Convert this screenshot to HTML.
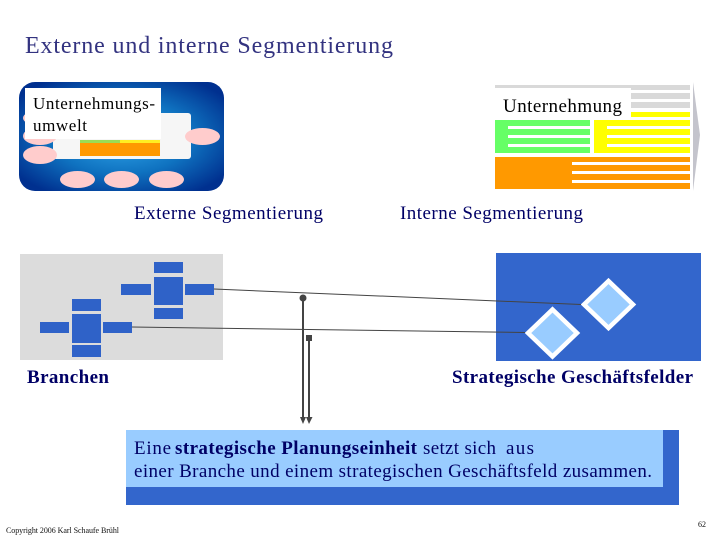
<!DOCTYPE html>
<html><head><meta charset="utf-8"><style>
html,body{margin:0;padding:0;background:#fff;width:720px;height:540px;overflow:hidden}
svg{display:block}
text{font-family:"Liberation Serif",serif;fill:#000066}
</style></head><body>
<svg width="720" height="540" viewBox="0 0 720 540" xmlns="http://www.w3.org/2000/svg">
<defs>
<radialGradient id="g" cx="50%" cy="50%" r="62%">
<stop offset="0" stop-color="#33aaee"/><stop offset="0.55" stop-color="#0f72c0"/><stop offset="1" stop-color="#00308f"/>
</radialGradient>
</defs>
<text x="25" y="53" font-size="24" textLength="368" lengthAdjust="spacing" style="fill:#333380">Externe und interne Segmentierung</text>

<!-- Left top -->
<rect x="19" y="82" width="205" height="109" rx="16" fill="url(#g)"/>
<rect x="53" y="113" width="138" height="46" rx="3" fill="#f6f6f6"/>
<rect x="80" y="140" width="40" height="3" fill="#99dd55"/>
<rect x="120" y="140" width="40" height="3" fill="#ffee22"/>
<rect x="80" y="143" width="80" height="13" fill="#ff9900"/>
<g fill="#ffcccc">
<ellipse cx="40" cy="118" rx="17" ry="8"/>
<ellipse cx="40" cy="136" rx="17" ry="9"/>
<ellipse cx="40" cy="155" rx="17" ry="9"/>
<ellipse cx="202.500" cy="136.500" rx="17.500" ry="8.500"/>
<ellipse cx="77.500" cy="179.500" rx="17.500" ry="8.500"/>
<ellipse cx="121.500" cy="179.500" rx="17.500" ry="8.500"/>
<ellipse cx="166.500" cy="179.500" rx="17.500" ry="8.500"/>
</g>
<rect x="25" y="88" width="136" height="51" fill="#fff"/>
<text x="33" y="109" font-size="17" textLength="122" style="fill:#000">Unternehmungs-</text>
<text x="33" y="131" font-size="17" textLength="54" style="fill:#000">umwelt</text>

<!-- Right top -->
<polygon points="693,82 700,135 693,191" fill="#c4c4cc"/>
<g fill="#d9d9d9">
<rect x="495" y="85" width="195" height="5"/>
<rect x="495" y="93" width="195" height="6"/><rect x="495" y="102" width="195" height="6"/>
</g>
<g fill="#ffff00">
<rect x="594" y="112" width="96" height="5"/><rect x="594" y="120" width="96" height="6"/><rect x="594" y="129" width="96" height="6"/><rect x="594" y="138" width="96" height="6"/><rect x="594" y="147" width="96" height="6"/>
<rect x="594" y="120" width="13" height="33"/>
</g>
<g fill="#66ff66">
<rect x="495" y="120" width="95" height="6"/><rect x="495" y="129" width="95" height="6"/><rect x="495" y="138" width="95" height="6"/><rect x="495" y="147" width="95" height="6"/>
<rect x="495" y="120" width="13" height="33"/>
</g>
<g fill="#ff9900">
<rect x="495" y="157" width="77" height="32"/>
<rect x="572" y="157" width="118" height="5"/><rect x="572" y="165" width="118" height="6"/><rect x="572" y="174" width="118" height="6"/><rect x="572" y="183" width="118" height="6"/>
</g>
<rect x="495" y="88" width="136" height="30" fill="#fff"/>
<text x="503" y="112" font-size="19" textLength="119" style="fill:#000">Unternehmung</text>

<text x="134" y="219" font-size="19" textLength="189">Externe Segmentierung</text>
<text x="400" y="219" font-size="19" textLength="183">Interne Segmentierung</text>

<!-- Left bottom -->
<rect x="20" y="254" width="203" height="106" fill="#dcdcdc"/>
<g fill="#2f62c8">
<rect x="154" y="262" width="29" height="11"/><rect x="154" y="277" width="29" height="28"/><rect x="154" y="308" width="29" height="11"/>
<rect x="121" y="284" width="30" height="11"/><rect x="185" y="284" width="29" height="11"/>
<rect x="72" y="299" width="29" height="12"/><rect x="72" y="314" width="29" height="29"/><rect x="72" y="345" width="29" height="12"/>
<rect x="40" y="322" width="29" height="11"/><rect x="103" y="322" width="29" height="11"/>
</g>

<!-- Right bottom -->
<rect x="496" y="253" width="205" height="108" fill="#3366cc"/>
<polygon points="608.500,281 633,304.500 608.500,328 584,304.500" fill="#99ccff" stroke="#fff" stroke-width="4.500"/>
<polygon points="552.500,309.500 577,333 552.500,356.500 528,333" fill="#99ccff" stroke="#fff" stroke-width="4.500"/>

<!-- Connectors -->
<g stroke="#444" fill="none">
<line x1="214" y1="289" x2="581" y2="304.500" stroke-width="1"/>
<line x1="132" y1="327" x2="525" y2="332.500" stroke-width="1"/>
<line x1="303" y1="298" x2="303" y2="420" stroke-width="2"/>
<line x1="309" y1="338" x2="309" y2="420" stroke-width="2"/>
</g>
<circle cx="303" cy="298" r="3.500" fill="#444"/>
<rect x="306" y="335" width="6" height="6" fill="#444"/>
<polygon points="300,417 306,417 303,424" fill="#444"/>
<polygon points="306,417 312.500,417 309,424" fill="#444"/>

<text x="27" y="383" font-size="19" font-weight="bold" textLength="82">Branchen</text>
<text x="452" y="383" font-size="19" font-weight="bold" textLength="241">Strategische Geschäftsfelder</text>

<!-- Callout -->
<rect x="126" y="430" width="553" height="75" fill="#3366cc"/>
<rect x="126" y="430" width="537" height="57" fill="#99ccff"/>
<text x="134" y="454" font-size="19" textLength="37">Eine</text>
<text x="175" y="454" font-size="19" font-weight="bold" textLength="242">strategische Planungseinheit</text>
<text x="423" y="454" font-size="19" textLength="73">setzt sich</text>
<text x="506" y="454" font-size="19" textLength="28">aus</text>
<text x="134" y="477" font-size="19" textLength="518">einer Branche und einem strategischen Geschäftsfeld zusammen.</text>

<text x="6" y="533" font-size="8" textLength="113" style="fill:#111">Copyright 2006 Karl Schaufe Brühl</text>
<text x="698" y="527" font-size="8" textLength="8" style="fill:#111">62</text>
</svg>
</body></html>
